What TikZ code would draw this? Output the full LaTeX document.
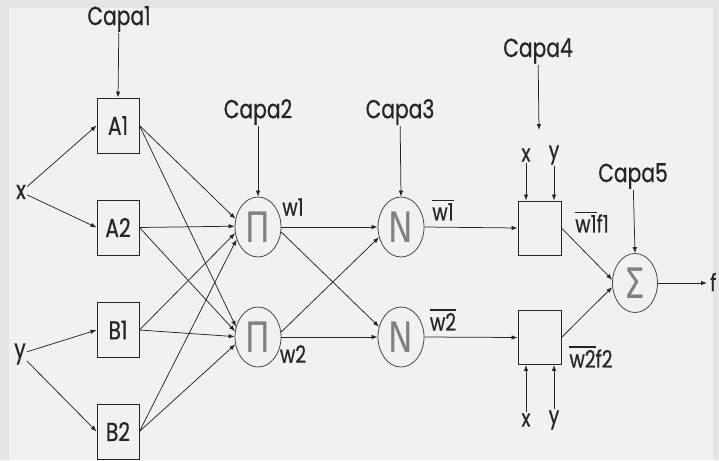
\documentclass[tikz,border=0pt]{standalone}
\usepackage{fontspec}
\usetikzlibrary{shapes.geometric,arrows.meta}
\newfontfamily\labfont[FakeStretch=0.78,FakeBold=0.6]{Poppins}
\newfontfamily\symfont[FakeStretch=0.78]{DejaVu Sans}
\definecolor{bgout}{HTML}{E3E4E6}
\definecolor{bgin}{HTML}{F1F1F1}
\definecolor{ink}{HTML}{262626}
\newcommand\obar[1]{\vbox{\hrule height 1.2pt\kern 2.4pt\hbox{#1}}}
\tikzset{
  lab/.style={inner sep=1pt,text=ink,font=\labfont\fontsize{26}{28}\selectfont},
  wlab/.style={inner sep=1pt,text=ink,font=\labfont\fontsize{24}{26}\selectfont},
  mfbox/.style={draw=ink,line width=0.9pt,rectangle,minimum width=42pt,minimum height=55pt,inner sep=0pt,text=ink,font=\labfont\fontsize{26}{28}\selectfont},
  prodbox/.style={draw=ink,line width=0.9pt,rectangle,minimum width=43pt,minimum height=54pt,inner sep=0pt},
  opnode/.style={draw=ink!85,line width=0.8pt,ellipse,minimum width=46pt,minimum height=60pt,inner sep=0pt,text=black!50,font=\symfont\fontsize{42}{44}\selectfont},
  conn/.style={draw=ink,line width=0.75pt,-{Latex[length=6pt,width=4.5pt]}}
}
\begin{document}
\begin{tikzpicture}[x=1pt,y=-1pt]
\useasboundingbox (0,0) rectangle (719,460);
\fill[bgout] (0,0) rectangle (719,460);
\fill[bgin] (9,8) rectangle (713,460);
% layer 1
\node[mfbox] (A1) at (118,125.5) {A1};
\node[mfbox] (A2) at (118,227.5) {A2};
\node[mfbox] (B1) at (118,330) {B1};
\node[mfbox] (B2) at (118,431.5) {B2};
\node[lab] (x) at (21,192) {x};
\node[lab] (y) at (20,354) {y};
\node[lab] (capa1) at (119,19) {Capa1};
% layer 2
\node[opnode] (Pi1) at (258,227) {Π};
\node[opnode] (Pi2) at (258,337) {Π};
\node[lab] (capa2) at (258,112) {Capa2};
\node[wlab] (w1) at (293,207) {w1};
\node[wlab] (w2) at (293,354) {w2};
% layer 3
\node[opnode] (N1) at (401,227) {N};
\node[opnode] (N2) at (401,337) {N};
\node[lab] (capa3) at (400,112) {Capa3};
\node[wlab] (wb1) at (443,210) {\obar{w1}};
\node[wlab] (wb2) at (443,320) {\obar{w2}};
% layer 4
\node[prodbox] (F1) at (539.5,228) {};
\node[prodbox] (F2) at (539.5,337.5) {};
\node[lab] (capa4) at (538,51) {Capa4};
\coordinate (c4) at (539,130);
\node[wlab] (x4a) at (526,155) {x};
\node[wlab] (y4a) at (554,155) {y};
\node[wlab] (x4b) at (526,420) {x};
\node[wlab] (y4b) at (554,420) {y};
\node[wlab] (wf1) at (592,222) {\obar{w1}f1};
\node[wlab] (wf2) at (591,357) {\obar{w2}f2};
% layer 5
\node[opnode,minimum width=45pt,minimum height=59pt] (S) at (635,283) {Σ};
\node[lab] (capa5) at (633,176) {Capa5};
\coordinate (fend) at (707,283);
\node[wlab,anchor=west] (f) at (709,282) {f};
% connectors
\draw[conn] (capa1) -- (A1.north);
\draw[conn] (x) -- (A1.west);
\draw[conn] (x) -- (A2.west);
\draw[conn] (y) -- (B1.west);
\draw[conn] (y) -- (B2.west);
\draw[conn] (A1.east) -- (Pi1.160);
\draw[conn] (A2.east) -- (Pi1.178);
\draw[conn] (B1.east) -- (Pi1.195);
\draw[conn] (B2.east) -- (Pi1.210);
\draw[conn] (A1.east) -- (Pi2.155);
\draw[conn] (A2.east) -- (Pi2.166);
\draw[conn] (B1.east) -- (Pi2.179);
\draw[conn] (B2.east) -- (Pi2.198);
\draw[conn] (capa2) -- (Pi1.north);
\draw[conn] (capa3) -- (N1.north);
\draw[conn] (Pi1.east) -- (N1.west);
\draw[conn] (Pi2.east) -- (N2.west);
\draw[conn] (Pi1.-12) -- (N2.155);
\draw[conn] (Pi2.12) -- (N1.205);
\draw[conn] (N1.east) -- (F1.west);
\draw[conn] (N2.east) -- (F2.west);
\draw[conn] (capa4) -- (c4);
\draw[conn] (x4a) -- (F1.north -| x4a);
\draw[conn] (y4a) -- (F1.north -| y4a);
\draw[conn] (x4b) -- (F2.south -| x4b);
\draw[conn] (y4b) -- (F2.south -| y4b);
\draw[conn] (F1.east) -- (S.172);
\draw[conn] (F2.east) -- (S.190);
\draw[conn] (capa5) -- (S.north);
\draw[conn] (S.east) -- (fend);
\end{tikzpicture}
\end{document}
